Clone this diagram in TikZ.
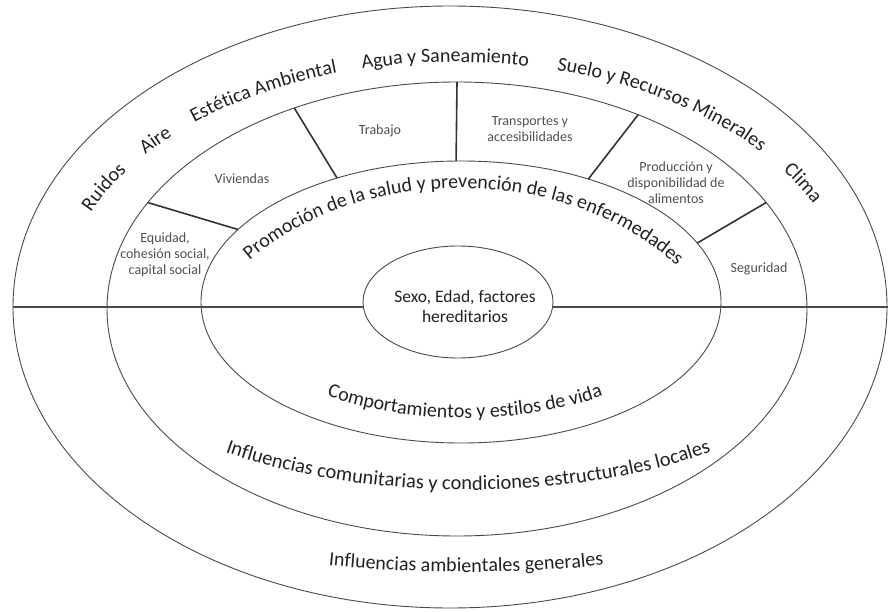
\documentclass[tikz,border=0pt]{standalone}
\usepackage{fontspec}
\setmainfont{Carlito}
\usetikzlibrary{shapes.geometric, decorations.text}

\definecolor{ringline}{HTML}{4A4A4A}
\definecolor{divline}{HTML}{333333}
\definecolor{maintext}{HTML}{222222}
\definecolor{sectortext}{HTML}{505050}

\newcommand{\ringfont}{\fontsize{20}{24}\selectfont}
\newcommand{\widefont}{\fontsize{20.4}{24}\selectfont}

\begin{document}
\begin{tikzpicture}[x=1pt, y=1pt,
    ring/.style={draw=ringline, line width=0.9pt, ellipse, inner sep=0pt, outer sep=0pt},
    divider/.style={draw=divline, line width=1.6pt},
    axisline/.style={draw=ringline, line width=1.4pt},
    sector/.style={font=\fontsize{14}{16}\selectfont, text=sectortext, align=center},
    arctext/.style={decorate, decoration={text along path, text align=center, text color=maintext, text={|\ringfont|#1}}},
    widearctext/.style={decorate, decoration={text along path, text align=center, text color=maintext, text={|\widefont|#1}}}]
    \fill[white] (0,0) rectangle (888,611);
    \useasboundingbox (0,0) rectangle (888,611);

    % Rings
    \node[ring, minimum width=874, minimum height=602] (outer) at (450,304) {};
    \node[ring, minimum width=700, minimum height=454] (community) at (457,302) {};
    \node[ring, minimum width=520, minimum height=282] (lifestyle) at (461,309) {};
    \node[ring, minimum width=190, minimum height=112] (core) at (458,309) {};
    \coordinate (rightedge) at (888,304);

    % Horizontal axis
    \draw[axisline] (outer.west) -- (outer.west -| core.west);
    \draw[axisline] (outer.west -| core.east) -- (rightedge);

    % Sector dividers
    \draw[divider] (community.161) -- (lifestyle.162);
    \draw[divider] (community.129) -- (lifestyle.135);
    \draw[divider] (community.90) -- (lifestyle.92);
    \draw[divider] (community.47) -- (lifestyle.44);
    \draw[divider] (community.19) -- (lifestyle.14);

    % Sector labels
    \node[sector] (equidad) at (165,356) {Equidad,\\cohesión social,\\capital social};
    \node[sector] (viviendas) at (242,432) {Viviendas};
    \node[sector] (trabajo) at (380,480) {Trabajo};
    \node[sector] (transportes) at (530,482) {Transportes y\\accesibilidades};
    \node[sector] (produccion) at (676,428) {Producción y\\disponibilidad de\\alimentos};
    \node[sector] (seguridad) at (759,342) {Seguridad};

    % Core
    \node[font=\fontsize{17.5}{20}\selectfont, text=maintext, align=center] (coretext) at (465,305) {Sexo, Edad, factores\\hereditarios};

    % Curved labels
    \coordinate (envc) at (455,304);
    \coordinate (promoc) at (460,211);
    \coordinate (lifec) at (465,309);
    \coordinate (commc) at (468,311);
    \coordinate (genc) at (466,311);

    \path[arctext={Ruidos}] ([shift={(162:395 and 245)}]envc) arc[start angle=162, end angle=142, x radius=395, y radius=245];
    \path[arctext={Aire}] ([shift={(149:395 and 245)}]envc) arc[start angle=149, end angle=129, x radius=395, y radius=245];
    \path[arctext={Estética Ambiental}] ([shift={(140:395 and 245)}]envc) arc[start angle=140, end angle=100, x radius=395, y radius=245];
    \path[arctext={Agua y Saneamiento}] ([shift={(115:395 and 245)}]envc) arc[start angle=115, end angle=68, x radius=395, y radius=245];
    \path[arctext={Suelo y Recursos Minerales}] ([shift={(83:395 and 245)}]envc) arc[start angle=83, end angle=29, x radius=395, y radius=245];
    \path[arctext={Clima}] ([shift={(39:395 and 245)}]envc) arc[start angle=39, end angle=19, x radius=395, y radius=245];

    \path[arctext={Promoción de la salud y prevención de las enfermedades}] ([shift={(140:280 and 212)}]promoc) arc[start angle=140, end angle=38, x radius=280, y radius=212];
    \path[arctext={Comportamientos y estilos de vida}] ([shift={(220:235 and 116)}]lifec) arc[start angle=220, end angle=320, x radius=235, y radius=116];
    \path[widearctext={Influencias comunitarias y condiciones estructurales locales}] ([shift={(225:405 and 190)}]commc) arc[start angle=225, end angle=315, x radius=405, y radius=190];
    \path[arctext={Influencias ambientales generales}] ([shift={(250:620 and 272)}]genc) arc[start angle=250, end angle=290, x radius=620, y radius=272];
\end{tikzpicture}
\end{document}
